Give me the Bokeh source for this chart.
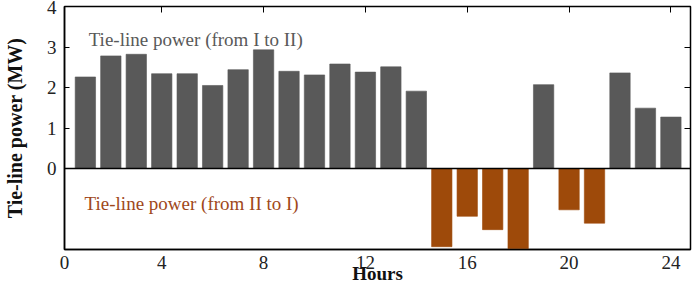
from bokeh.plotting import figure
from bokeh.models import Range1d, LinearAxis, FixedTicker, Span, Label, ColumnDataSource
from bokeh.embed import file_html
from bokeh.resources import INLINE

hours = list(range(1, 25))
power = [2.26, 2.78, 2.82, 2.34, 2.34, 2.05, 2.44, 2.93, 2.40, 2.31, 2.58, 2.38,
         2.51, 1.91, -1.93, -1.18, -1.51, -1.98, 2.07, -1.02, -1.35, 2.36, 1.49, 1.27]
x_ticks = [0, 4, 8, 12, 16, 20, 24]
y_ticks = [0, 1, 2, 3, 4]
label_pos = "Tie-line power (from I to II)"
label_neg = "Tie-line power (from II to I)"
y_title = "Tie-line power (MW)"
x_title = "Hours"

GRAY = "#595959"
ORANGE = "#9E4A0A"
SERIF = "Liberation Serif"

x_start, x_end = 0.18, 24.77
y_start, y_end = -2, 4
colors = [GRAY if v >= 0 else ORANGE for v in power]
src = ColumnDataSource(dict(x=hours, top=power, color=colors))

p = figure(width=692, height=288, output_backend="svg", toolbar_location=None,
           x_range=Range1d(x_start, x_end), y_range=Range1d(y_start, y_end),
           min_border_left=63, min_border_right=2, min_border_top=6, min_border_bottom=39)
p.outline_line_color = "black"
p.outline_line_width = 1.5
p.xgrid.visible = False
p.ygrid.visible = False
p.background_fill_color = "white"

p.vbar(x="x", top="top", bottom=0, width=0.8, fill_color="color", line_color="color",
       line_alpha=0.6, source=src)

p.add_layout(Span(location=0, dimension="width", line_color="black", line_width=1.5))

# x axis (bottom)
xt = [max(t, x_start) for t in x_ticks]
xa = p.xaxis[0]
xa.ticker = FixedTicker(ticks=xt)
xa.major_label_overrides = {xv: str(t) for xv, t in zip(xt, x_ticks)}
xa.major_tick_line_color = None
xa.minor_tick_line_color = None
xa.major_tick_out = 0
xa.major_tick_in = 0
xa.major_label_standoff = 6
xa.major_label_text_font = SERIF
xa.major_label_text_font_size = "19px"
xa.major_label_text_color = "#222222"
xa.axis_line_color = "black"
xa.axis_line_width = 1.5
xa.axis_label = x_title
xa.axis_label_text_font = SERIF
xa.axis_label_text_font_style = "bold"
xa.axis_label_text_font_size = "19px"
xa.axis_label_text_color = "#111111"
xa.axis_label_standoff = -9

# y axis (left)
ya = p.yaxis[0]
ya.ticker = FixedTicker(ticks=y_ticks)
ya.minor_tick_line_color = None
ya.major_tick_in = 5
ya.major_tick_out = 0
ya.major_tick_line_color = "black"
ya.major_label_standoff = 8
ya.major_label_text_font = SERIF
ya.major_label_text_font_size = "19px"
ya.major_label_text_color = "#222222"
ya.axis_line_color = "black"
ya.axis_line_width = 1.5
ya.axis_label = y_title
ya.axis_label_text_font = SERIF
ya.axis_label_text_font_style = "bold"
ya.axis_label_text_font_size = "20px"
ya.axis_label_text_color = "#111111"
ya.axis_label_standoff = 18

# top ticks
top_ax = LinearAxis(ticker=FixedTicker(ticks=x_ticks[1:]), major_tick_in=6, major_tick_out=0,
                    major_label_overrides={t: "" for t in x_ticks[1:]},
                    major_label_text_font_size="1px", major_label_standoff=0,
                    axis_line_color=None, minor_tick_line_color=None,
                    major_tick_line_color="black")
p.add_layout(top_ax, "above")

# right ticks
right_ax = LinearAxis(ticker=FixedTicker(ticks=y_ticks[1:-1]), major_tick_in=6, major_tick_out=0,
                      major_label_overrides={t: "" for t in y_ticks[1:-1]},
                      major_label_text_font_size="1px", major_label_standoff=0,
                      axis_line_color=None, minor_tick_line_color=None,
                      major_tick_line_color="black")
p.add_layout(right_ax, "right")

p.add_layout(Label(x=1.13, y=3.18, text=label_pos, text_font=SERIF, text_font_size="19px",
                   text_color=GRAY, text_baseline="middle", text_align="left"))
p.add_layout(Label(x=0.97, y=-0.87, text=label_neg, text_font=SERIF, text_font_size="19px",
                   text_color="#A0481A", text_baseline="middle", text_align="left"))

open("out.html", "w").write(file_html(p, INLINE))
